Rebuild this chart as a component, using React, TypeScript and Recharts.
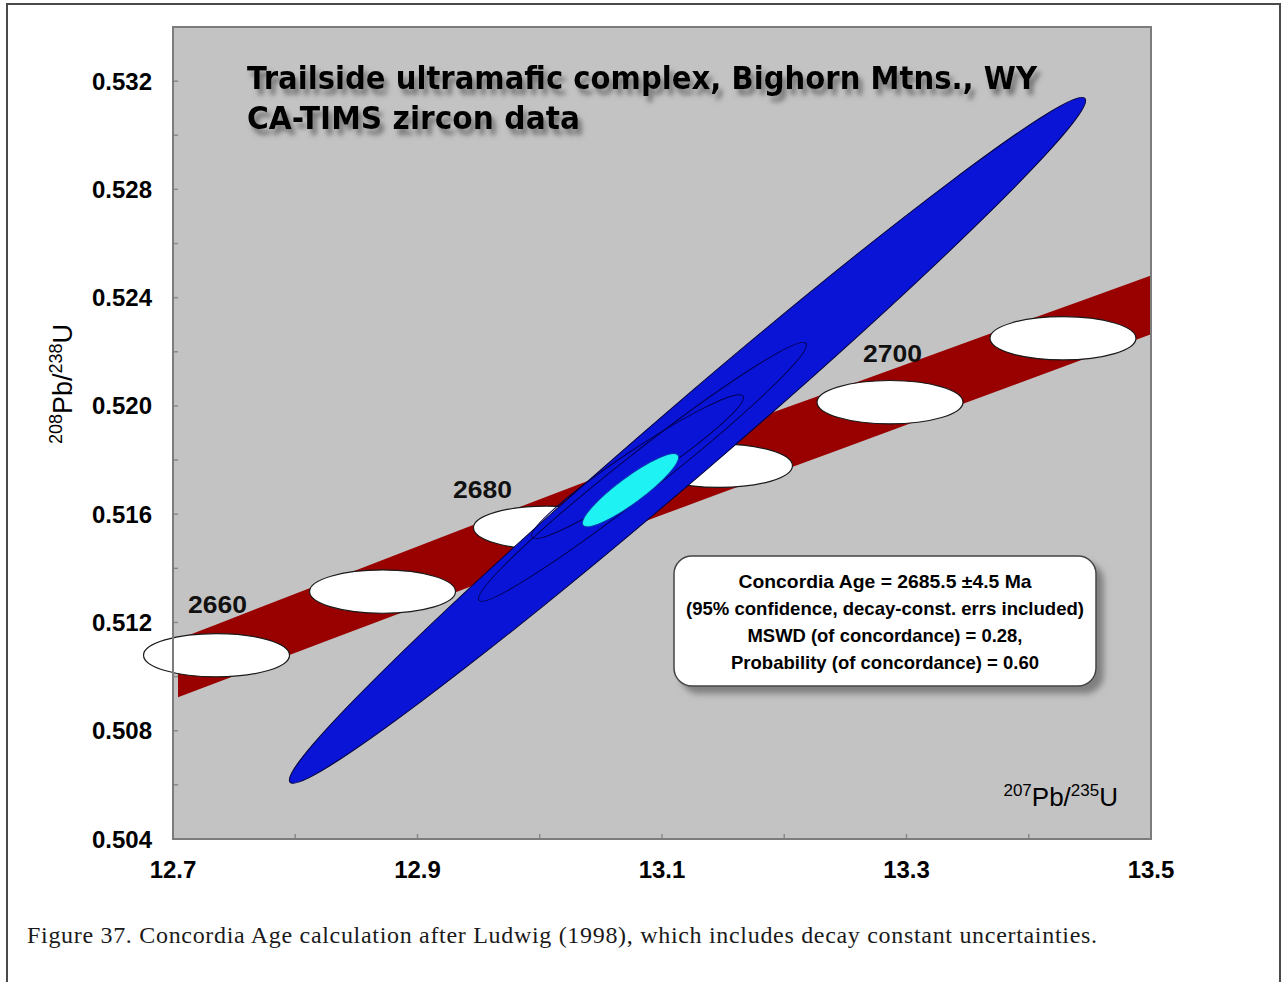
import React from "react";
import {
  ComposedChart, Area, XAxis, YAxis, ReferenceArea, ReferenceDot, ReferenceLine,
} from "recharts";

// concordia band incl. decay-constant errors (edges)
const bandX = [12.7041, 12.8857, 13.082, 13.2947, 13.5];
const bandLow = [0.50924, 0.51234, 0.51567, 0.51921, 0.52265];
const bandHigh = [0.51138, 0.51456, 0.51796, 0.52146, 0.52482];

// age markers along concordia (Ma) and their error ellipses
const markerAges = [2660, 2670, 2680, 2690, 2700, 2710];
const markerX = [12.7356, 12.8714, 13.0055, 13.147, 13.2865, 13.428];
const markerY = [0.51079, 0.51314, 0.5155, 0.51779, 0.52014, 0.5225];
const markerErrX = 0.0597;
const markerErrY = 0.0008;

// labelled ages
const labelAges = ["2660", "2680", "2700"];
const labelX = [12.7123, 12.929, 13.2644];
const labelY = [0.51234, 0.51659, 0.52161];

// data ellipses: tips of the long axis (lower-left -> upper-right), minor/major ratio
const ellNames = ["data", "outer", "inner", "concordiaAge"];
const ellX1 = [12.7957, 12.9503, 12.9937, 13.0354];
const ellY1 = [0.5061, 0.51282, 0.51515, 0.51559];
const ellX2 = [13.446, 13.2178, 13.1663, 13.1131];
const ellY2 = [0.53136, 0.52231, 0.52036, 0.51818];
const ellRatio = [0.066, 0.095, 0.13, 0.22];

const xTicks = [12.7, 12.9, 13.1, 13.3, 13.5];
const yTicks = [0.504, 0.508, 0.512, 0.516, 0.52, 0.524, 0.528, 0.532];
const xMinor = [12.8, 12.9, 13.0, 13.1, 13.2, 13.3, 13.4];
const yMinor = [0.506, 0.508, 0.51, 0.512, 0.514, 0.516, 0.518, 0.52, 0.522, 0.524, 0.526, 0.528, 0.53, 0.532];

const legendLines = [
  "Concordia Age = 2685.5 \u00b14.5 Ma",
  "(95% confidence, decay-const. errs included)",
  "MSWD (of concordance) = 0.28,",
  "Probability  (of concordance) = 0.60",
];
const legendWidths = [293, 398, 275, 308];

const bandData = bandX.map((x, i) => ({ x, band: [bandLow[i], bandHigh[i]] }));

const ellStyles: Record<string, { fill: string; stroke: string }> = {
  data: { fill: "#0a14d6", stroke: "#000040" },
  outer: { fill: "none", stroke: "#000050" },
  inner: { fill: "none", stroke: "#000050" },
  concordiaAge: { fill: "#1ff2f2", stroke: "#0a3ab0" },
};

const sans = "'Liberation Sans', Arial, sans-serif";

const markerShape = (p: any) => (
  <ellipse
    cx={p.x + p.width / 2} cy={p.y + p.height / 2}
    rx={p.width / 2} ry={p.height / 2}
    fill="#ffffff" stroke="#1a1a1a" strokeWidth={1.2}
  />
);

const tiltedShape = (name: string, ratio: number) => (p: any) => {
  const cx = p.x + p.width / 2;
  const cy = p.y + p.height / 2;
  const a = Math.hypot(p.width, p.height) / 2;
  const ang = (-Math.atan2(p.height, p.width) * 180) / Math.PI;
  const st = ellStyles[name];
  return (
    <ellipse
      cx={cx} cy={cy} rx={a} ry={a * ratio}
      transform={`rotate(${ang} ${cx} ${cy})`}
      fill={st.fill} stroke={st.stroke} strokeWidth={1}
    />
  );
};

const vTick = (p: any) => {
  const yb = Math.max(p.y1, p.y2);
  return <line x1={p.x1} x2={p.x1} y1={yb} y2={yb - 5} stroke="#8a8a8a" strokeWidth={1.5} />;
};
const hTick = (p: any) => {
  const xl = Math.min(p.x1, p.x2);
  return <line x1={xl} x2={xl + 5} y1={p.y1} y2={p.y1} stroke="#8a8a8a" strokeWidth={1.5} />;
};

export default function App() {
  const tickStyle = { fontFamily: sans, fontSize: 24, fontWeight: 700, fill: "#000" };
  return (
    <div style={{ position: "absolute", left: 0, top: 0, width: 1286, height: 982, background: "#fff", overflow: "hidden" }}>
      <div style={{ position: "absolute", left: 0, top: 0 }}>
        <ComposedChart width={1286} height={900} data={bandData} margin={{ top: 27, right: 135, bottom: 31, left: 0 }}>
          <XAxis
            dataKey="x" type="number" domain={[12.7, 13.5]} ticks={xTicks} allowDataOverflow
            tickFormatter={(v: number) => v.toFixed(1)} axisLine={false} tickLine={false}
            tickMargin={16} tick={tickStyle} interval={0}
          />
          <YAxis
            type="number" domain={[0.504, 0.534]} ticks={yTicks} allowDataOverflow width={173}
            tickFormatter={(v: number) => v.toFixed(3)} axisLine={false} tickLine={false}
            tickMargin={15} tick={tickStyle} interval={0}
          />
          <ReferenceArea x1={12.7} x2={13.5} y1={0.504} y2={0.534} fill="#c3c3c3" fillOpacity={1} stroke="none" ifOverflow="visible" zIndex={10} />
          <Area
            type="monotone" dataKey="band" stroke="none" fill="#990000" fillOpacity={1}
            isAnimationActive={false} dot={false} activeDot={false} zIndex={20}
          />
          {markerAges.map((age, i) => (
            <ReferenceArea
              key={age}
              x1={markerX[i] - markerErrX} x2={markerX[i] + markerErrX}
              y1={markerY[i] - markerErrY} y2={markerY[i] + markerErrY}
              ifOverflow="visible" shape={markerShape} zIndex={30}
            />
          ))}
          {ellNames.map((n, i) => (
            <ReferenceArea
              key={n}
              x1={ellX1[i]} x2={ellX2[i]} y1={ellY1[i]} y2={ellY2[i]}
              ifOverflow="visible" shape={tiltedShape(n, ellRatio[i])} zIndex={40 + i}
            />
          ))}
          {xMinor.map((v) => (
            <ReferenceLine key={"x" + v} x={v} ifOverflow="visible" shape={vTick} zIndex={70} />
          ))}
          {yMinor.map((v) => (
            <ReferenceLine key={"y" + v} y={v} ifOverflow="visible" shape={hTick} zIndex={70} />
          ))}
          <ReferenceArea x1={12.7} x2={13.5} y1={0.504} y2={0.534} fill="none" stroke="#7c7c7c" strokeWidth={2} ifOverflow="visible" zIndex={75} />
          {labelAges.map((t, i) => (
            <ReferenceDot
              key={t} x={labelX[i]} y={labelY[i]} ifOverflow="visible" zIndex={80}
              shape={(p: any) => (
                <text x={p.cx} y={p.cy} fontFamily={sans} fontSize={23} fontWeight={700} fill="#111"
                  textLength={59} lengthAdjust="spacingAndGlyphs">{t}</text>
              )}
            />
          ))}
        </ComposedChart>
      </div>
      <svg width={1286} height={982} style={{ position: "absolute", left: 0, top: 0, pointerEvents: "none" }}>
        <defs>
          <filter id="textShadow" x="-5%" y="-40%" width="115%" height="200%">
            <feGaussianBlur in="SourceAlpha" stdDeviation={2.5} result="b" />
            <feOffset in="b" dx={4} dy={6} result="o" />
            <feFlood floodColor="#5a5a5a" floodOpacity={0.75} />
            <feComposite in2="o" operator="in" result="s" />
            <feMerge>
              <feMergeNode in="s" />
              <feMergeNode in="SourceGraphic" />
            </feMerge>
          </filter>
          <filter id="boxShadow" x="-10%" y="-20%" width="125%" height="150%">
            <feDropShadow dx={7} dy={7} stdDeviation={3} floodColor="#6e6e6e" floodOpacity={0.8} />
          </filter>
        </defs>
        {/* outer figure frame */}
        <path d="M7,982 V4 H1280 V982" fill="none" stroke="#4a4a4a" strokeWidth={2} />

        {/* title with soft shadow */}
        <g fontFamily="'DejaVu Sans', Verdana, sans-serif" fontWeight={700} fontSize={32} fill="#000" filter="url(#textShadow)">
          <text x={247} y={89} textLength={790} lengthAdjust="spacingAndGlyphs">Trailside ultramafic complex, Bighorn Mtns., WY</text>
          <text x={247} y={129} textLength={333} lengthAdjust="spacingAndGlyphs">CA-TIMS zircon data</text>
        </g>

        {/* axis titles */}
        <text transform="translate(72,384) rotate(-90)" textAnchor="middle" fontFamily={sans} fill="#000">
          <tspan fontSize={18} dy={-10}>208</tspan>
          <tspan fontSize={27} dy={10}>Pb/</tspan>
          <tspan fontSize={18} dy={-10}>238</tspan>
          <tspan fontSize={27} dy={10}>U</tspan>
        </text>
        <text x={1118} y={806} textAnchor="end" fontFamily={sans} fill="#000">
          <tspan fontSize={17} dy={-10}>207</tspan>
          <tspan fontSize={26} dy={10}>Pb/</tspan>
          <tspan fontSize={17} dy={-10}>235</tspan>
          <tspan fontSize={26} dy={10}>U</tspan>
        </text>

        {/* result box */}
        <rect x={674} y={556} width={422} height={130} rx={18} ry={18} fill="#fff" stroke="#444" strokeWidth={1.5} filter="url(#boxShadow)" />
        {legendLines.map((s, i) => (
          <text key={i} x={885} y={588 + i * 27} textAnchor="middle" fontFamily={sans} fontSize={19} fontWeight={700}
            fill="#000" textLength={legendWidths[i]} lengthAdjust="spacingAndGlyphs">{s}</text>
        ))}

        {/* caption */}
        <text x={27} y={943} fontFamily="'Liberation Serif', 'Times New Roman', serif" fontSize={24} fill="#1a1a1a" textLength={1070}>
          Figure 37. Concordia Age calculation after Ludwig (1998), which includes decay constant uncertainties.
        </text>
      </svg>
    </div>
  );
}
